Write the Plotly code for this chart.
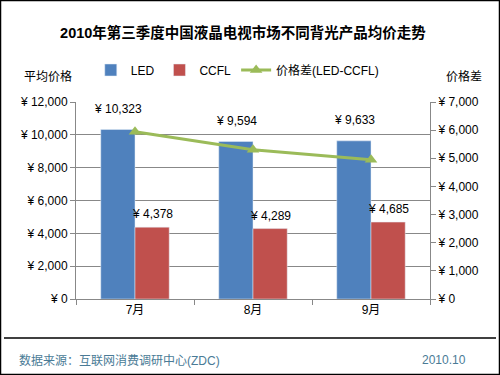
import plotly.graph_objects as go

categories = ["7月", "8月", "9月"]
led = [10323, 9594, 9633]
ccfl = [4378, 4289, 4685]
diff = [l - c for l, c in zip(led, ccfl)]
left_ticks = [0, 2000, 4000, 6000, 8000, 10000, 12000]
right_ticks = [0, 1000, 2000, 3000, 4000, 5000, 6000, 7000]

FONT = "Arial, Liberation Sans, Noto Sans CJK SC"
W, H = 500, 375
pl, pr, pt, pb = 76, 70, 102, 76
pw, ph = W - pl - pr, H - pt - pb


def px2paper(x, y):
    return (x - pl) / pw, (H - pb - y) / ph


def yen(v):
    return "¥ " + f"{v:,}"


fig = go.Figure()
fig.add_trace(go.Bar(name="LED", x=categories, y=led, marker_color="#4F81BD", yaxis="y"))
fig.add_trace(go.Bar(name="CCFL", x=categories, y=ccfl, marker_color="#C0504D", yaxis="y"))
fig.add_trace(go.Scatter(name="价格差(LED-CCFL)", x=categories, y=diff, yaxis="y2",
                         mode="lines+markers", line=dict(color="#9BBB59", width=3),
                         marker=dict(symbol="triangle-up", size=11, color="#9BBB59")))

annotations = []
for i, c in enumerate(categories):
    annotations.append(dict(x=c, y=led[i], xref="x", yref="y", text=yen(led[i]), showarrow=False,
                            xshift=-17, yshift=21, font=dict(size=12, color="#000")))
    annotations.append(dict(x=c, y=ccfl[i], xref="x", yref="y", text=yen(ccfl[i]), showarrow=False,
                            xshift=17, yshift=13, font=dict(size=12, color="#000")))

for txt, x, y, col, anchor in [
    ("平均价格", 48, 77, "#000", "center"),
    ("价格差", 464, 77, "#000", "center"),
    ("数据来源：互联网消费调研中心(ZDC)", 17, 360, "#4A7B96", "left"),
    ("2010.10", 468, 360, "#4A7B96", "right"),
]:
    ax, ay = px2paper(x, y)
    annotations.append(dict(text=txt, x=ax, y=ay, xref="paper", yref="paper", showarrow=False,
                            xanchor=anchor, yanchor="middle", font=dict(size=12, color=col)))

fig.update_layout(
    width=W, height=H,
    margin=dict(l=pl, r=pr, t=pt, b=pb, autoexpand=False),
    paper_bgcolor="white", plot_bgcolor="white",
    font=dict(family=FONT, size=12, color="#000"),
    title=dict(text="<b>2010年第三季度中国液晶电视市场不同背光产品均价走势</b>",
               x=0.486, xanchor="center", y=1 - 33 / H, yanchor="middle",
               font=dict(size=14.5, color="#000")),
    barmode="group", bargap=0.42, bargroupgap=0,
    showlegend=True,
    legend=dict(orientation="h", x=0.457, xanchor="center", y=1 - 70 / H, yanchor="middle",
                yref="container", font=dict(size=12), bgcolor="rgba(0,0,0,0)",
                itemwidth=30, tracegroupgap=0),
    xaxis=dict(showline=True, linecolor="#888", ticks="outside", tickcolor="#888",
               ticklen=5, tickson="boundaries", showgrid=False, tickfont=dict(size=12)),
    yaxis=dict(range=[0, 12000], tickvals=left_ticks, ticktext=[yen(v) for v in left_ticks],
               showline=True, linecolor="#888", ticks="outside", tickcolor="#888", ticklen=5,
               showgrid=True, gridcolor="#888", gridwidth=1, zeroline=False, tickfont=dict(size=12)),
    yaxis2=dict(range=[0, 7000], tickvals=right_ticks, ticktext=[yen(v) for v in right_ticks],
                overlaying="y", side="right", showline=True, linecolor="#888", ticks="outside",
                tickcolor="#888", ticklen=5, showgrid=False, zeroline=False, tickfont=dict(size=12)),
    annotations=annotations,
)

x0, _ = px2paper(4, 0)
x1, _ = px2paper(496, 0)
_, yl = px2paper(0, 338)
bx0, by0 = px2paper(0.5, 374.5)
bx1, by1 = px2paper(499.5, 0.5)
fig.add_shape(type="line", xref="paper", yref="paper", x0=x0, x1=x1, y0=yl, y1=yl,
              line=dict(color="#000", width=1.5))
fig.add_shape(type="rect", xref="paper", yref="paper", x0=bx0, x1=bx1, y0=by0, y1=by1,
              line=dict(color="#000", width=1.5))

fig.write_html("out.html", config={"displayModeBar": False},
               post_script="document.body.style.margin='0';document.body.style.overflow='hidden';")
